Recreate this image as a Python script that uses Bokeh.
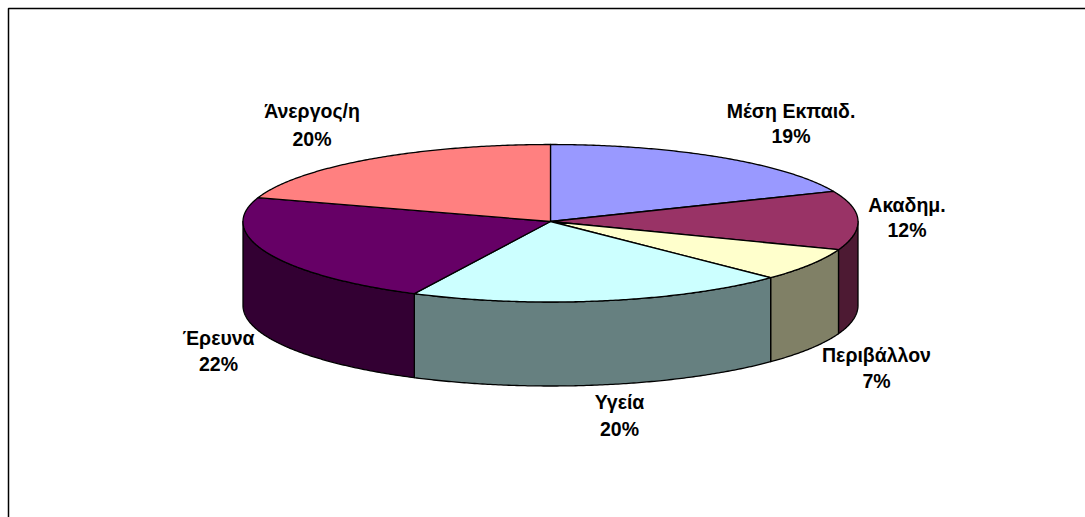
import math
from bokeh.plotting import figure
from bokeh.models import Range1d
from bokeh.core.properties import value
from bokeh.embed import file_html
from bokeh.resources import INLINE

categories = ["Μέση Εκπαιδ.", "Ακαδημ.", "Περιβάλλον", "Υγεία", "Έρευνα", "Άνεργος/η"]
shares = [18.6, 12.1, 6.6, 20.0, 22.7, 20.0]
pct_labels = ["19%", "12%", "7%", "20%", "22%", "20%"]
top_colors = ["#9999FF", "#993366", "#FFFFCC", "#CCFFFF", "#660066", "#FF8080"]
side_colors = ["#4D4D80", "#4D1A33", "#808066", "#668080", "#330033", "#804040"]

# layout (page pixels)
CX, CY, RX, RY_BACK, RY_FRONT, DEPTH = 550, 221, 307.5, 77, 80.5, 84
label_x = [790.5, 906.5, 876, 619, 218, 311.5]
name_y = [110, 204, 354, 401, 337, 110.5]
pct_y = [135, 229.5, 380, 428, 363.5, 138]
FONT = "Liberation Sans"
FONT_SIZE = "19.5px"
EDGE = 1.3


def rim(theta_deg, drop=0.0):
    t = math.radians(theta_deg)
    c = math.cos(t)
    ry = RY_BACK if c > 0 else RY_FRONT
    return CX + RX * math.sin(t), CY - ry * c + drop


def arc(a, b, drop=0.0):
    n = max(2, int(abs(b - a) * 2) + 1)
    return [rim(a + (b - a) * i / (n - 1), drop) for i in range(n)]


total = sum(shares)
edges = [0.0]
for s in shares:
    edges.append(edges[-1] + s / total * 360.0)

p = figure(width=1085, height=517, output_backend="svg", toolbar_location=None,
           x_range=Range1d(0, 1085), y_range=Range1d(517, 0), min_border=0,
           background_fill_color="white", border_fill_color="white", outline_line_color=None)
p.xaxis.visible = False
p.yaxis.visible = False
p.grid.visible = False

# chart frame: only the top and left edges show in the window
p.line([1085, 8, 8], [8, 8, 517], line_color="black", line_width=1.5)

# side walls: the front half only
wx, wy, wc = [], [], []
for i in range(len(shares)):
    a, b = max(edges[i], 90.0), min(edges[i + 1], 270.0)
    if a < b:
        pts = arc(a, b) + arc(b, a, DEPTH)
        wx.append([q[0] for q in pts])
        wy.append([q[1] for q in pts])
        wc.append(side_colors[i])
p.patches(wx, wy, fill_color=wc, line_color="black", line_width=EDGE, line_join="round")

# top face
tx, ty = [], []
for i in range(len(shares)):
    pts = [(CX, CY)] + arc(edges[i], edges[i + 1])
    tx.append([q[0] for q in pts])
    ty.append([q[1] for q in pts])
p.patches(tx, ty, fill_color=top_colors, line_color="black", line_width=EDGE, line_join="round")

for texts, ys in ((categories, name_y), (pct_labels, pct_y)):
    p.text(label_x, ys, text=texts, text_font=value(FONT), text_font_size=value(FONT_SIZE),
           text_font_style="bold", text_align="center", text_baseline="middle", text_color="black")

open("out.html", "w").write(file_html(p, INLINE))
